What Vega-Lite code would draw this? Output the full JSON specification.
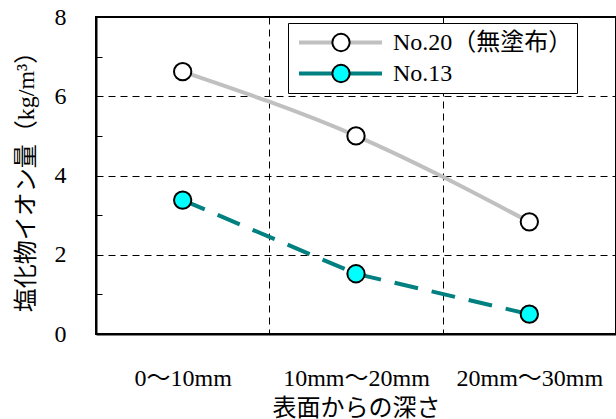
{
  "$schema": "https://vega.github.io/schema/vega-lite/v6.json",
  "width": 520,
  "height": 317,
  "autosize": {"type": "none"},
  "padding": {"left": 96, "top": 17, "right": 0, "bottom": 85},
  "config": {
    "font": "'Liberation Serif', 'Noto Sans CJK JP', serif",
    "view": {"stroke": "black", "strokeWidth": 2},
    "axis": {
      "labelFont": "'Liberation Serif', 'Noto Sans CJK JP', serif",
      "titleFont": "'Liberation Serif', 'Noto Sans CJK JP', serif",
      "labelColor": "black",
      "titleColor": "black",
      "labelFontSize": 24,
      "titleFontSize": 24,
      "titleFontWeight": "normal",
      "domainColor": "black",
      "domainWidth": 2,
      "gridColor": "black",
      "gridDash": [7, 5],
      "gridWidth": 1,
      "gridOpacity": 1,
      "tickColor": "black"
    },
    "legend": {
      "labelFont": "'Liberation Serif', 'Noto Sans CJK JP', serif",
      "labelColor": "black",
      "labelLimit": 0
    }
  },
  "data": {
    "values": [
      {"depth": "0〜10mm", "series": "No.20（無塗布）", "value": 6.62},
      {"depth": "10mm〜20mm", "series": "No.20（無塗布）", "value": 5.0},
      {"depth": "20mm〜30mm", "series": "No.20（無塗布）", "value": 2.83},
      {"depth": "0〜10mm", "series": "No.13", "value": 3.38},
      {"depth": "10mm〜20mm", "series": "No.13", "value": 1.52},
      {"depth": "20mm〜30mm", "series": "No.13", "value": 0.5}
    ]
  },
  "encoding": {
    "x": {
      "field": "depth",
      "type": "nominal",
      "sort": ["0〜10mm", "10mm〜20mm", "20mm〜30mm"],
      "scale": {"type": "band", "paddingInner": 0, "paddingOuter": 0},
      "axis": {
        "tickBand": "extent",
        "ticks": false,
        "grid": true,
        "labelAngle": 0,
        "labelPadding": 32,
        "title": "表面からの深さ",
        "titlePadding": 6
      }
    },
    "y": {
      "field": "value",
      "type": "quantitative",
      "scale": {"domain": [0, 8], "nice": false},
      "axis": {
        "values": [0, 1, 2, 3, 4, 5, 6, 7, 8],
        "labelExpr": "datum.value % 2 === 0 ? datum.label : ''",
        "tickSize": -6,
        "labelPadding": 36,
        "grid": true,
        "gridOpacity": {"condition": {"test": "datum.value % 2 === 1", "value": 0}, "value": 1},
        "title": "塩化物イオン量（kg/m³）",
        "titlePadding": 16
      }
    },
    "color": {
      "field": "series",
      "type": "nominal",
      "scale": {"domain": ["No.20（無塗布）", "No.13"], "range": ["#c0c0c0", "#008080"]},
      "legend": {
        "orient": "none",
        "legendX": 192,
        "legendY": 6,
        "title": null,
        "symbolType": "stroke",
        "symbolSize": 6889,
        "symbolStrokeWidth": 4,
        "symbolDash": [1, 0],
        "symbolOffset": 5,
        "labelOffset": 9,
        "labelFontSize": 24,
        "clipHeight": 31,
        "padding": 4,
        "rowPadding": 0,
        "strokeColor": "black",
        "fillColor": "white"
      }
    }
  },
  "layer": [
    {
      "transform": [{"filter": "datum.series === 'No.20（無塗布）'"}],
      "mark": {"type": "line", "interpolate": "monotone", "strokeWidth": 4}
    },
    {
      "transform": [{"filter": "datum.series === 'No.13'"}],
      "mark": {"type": "line", "interpolate": "linear", "strokeWidth": 4, "strokeDash": [24, 14]}
    },
    {
      "mark": {"type": "point", "shape": "circle", "filled": true, "size": 300, "stroke": "black", "strokeWidth": 2, "opacity": 1},
      "encoding": {
        "color": {"value": null},
        "fill": {
          "field": "series",
          "type": "nominal",
          "sort": ["No.20（無塗布）", "No.13"],
          "scale": {"range": ["white", "#00ffff"]},
          "legend": {
            "orient": "none",
            "legendX": 231,
            "legendY": 6,
            "title": null,
            "symbolType": "circle",
            "symbolSize": 300,
            "symbolStrokeColor": "black",
            "symbolStrokeWidth": 2,
            "symbolOpacity": 1,
            "labelFontSize": 1,
            "labelExpr": "''",
            "clipHeight": 31,
            "padding": 4,
            "rowPadding": 0,
            "symbolOffset": 0
          }
        }
      }
    }
  ]
}
